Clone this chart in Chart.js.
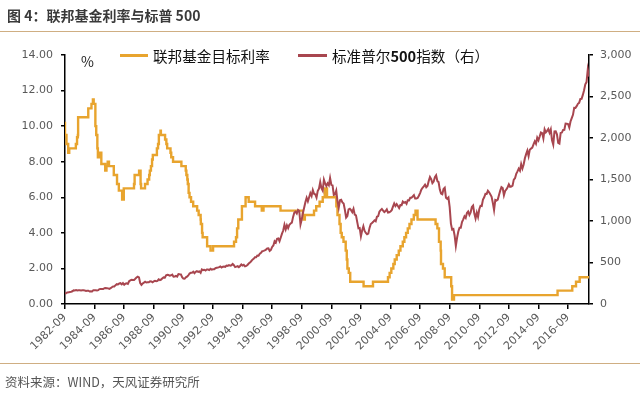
<!DOCTYPE html>
<html>
<head>
<meta charset="utf-8">
<script src="https://cdn.jsdelivr.net/npm/chart.js@4.4.1/dist/chart.umd.min.js"></script>
<style>
  body { margin: 0; background: #fff; }
  #wrap { position: relative; width: 640px; height: 394px; overflow: hidden; font-family: "Noto Sans CJK SC", sans-serif; }
  #canvas { position: absolute; left: 0; top: 0; }
  .txt { position: absolute; white-space: nowrap; }
  .rule { position: absolute; left: 0; width: 640px; height: 0; border-top: 1.5px solid #cfae82; }
  .swatch { position: absolute; height: 3px; }
</style>
</head>
<body>
<div id="wrap">
  <canvas id="canvas" width="640" height="394"></canvas>
  <div class="txt" style="left:7px; top:5px; font-size:14px; font-weight:bold; color:#3a3a3a;">图 4：联邦基金利率与标普 500</div>
  <div class="rule" style="top:31px;"></div>
  <div class="txt" style="left:81px; top:51px; font-size:14px; color:#222;">%</div>
  <div class="swatch" style="left:120px; top:54px; width:28px; background:#e8a42e;"></div>
  <div class="txt" style="left:153px; top:45px; font-size:14.6px; color:#111;">联邦基金目标利率</div>
  <div class="swatch" style="left:298px; top:54px; width:29px; background:#a8464f;"></div>
  <div class="txt" style="left:332px; top:45px; font-size:14.6px; color:#111;">标准普尔<b>500</b>指数（右）</div>
  <div class="rule" style="top:363px;"></div>
  <div class="txt" style="left:5px; top:372px; font-size:12.5px; color:#555;">资料来源：WIND，天风证券研究所</div>
</div>
<script>
// 联邦基金目标利率 (change dates and new target, %)
var fedDates = ['1982-09-01','1982-10-07','1982-11-19','1982-12-14','1983-05-25','1983-06-24','1983-07-14','1983-07-20',
  '1984-03-27','1984-06-15','1984-07-20','1984-08-09','1984-09-20','1984-10-11','1984-11-08','1984-11-21','1984-12-20',
  '1985-02-15','1985-05-20','1985-06-20','1985-07-20','1985-08-21','1985-12-18',
  '1986-03-07','1986-04-21','1986-07-11','1986-08-21',
  '1987-04-30','1987-05-15','1987-09-04','1987-10-10','1987-10-22','1988-01-28','1988-03-30','1988-05-09','1988-05-25',
  '1988-06-22','1988-07-19','1988-08-08','1988-11-17','1988-12-15','1989-01-05','1989-02-14','1989-02-24',
  '1989-06-06','1989-07-07','1989-07-27','1989-10-18','1989-11-06','1989-12-20',
  '1990-07-13','1990-10-29','1990-11-14','1990-12-07','1990-12-19','1991-01-09','1991-02-01','1991-03-08','1991-04-30',
  '1991-08-06','1991-09-13','1991-10-31','1991-11-06','1991-12-06','1991-12-20','1992-04-09','1992-07-02','1992-09-04',
  '1994-02-04','1994-03-22','1994-04-18','1994-05-17','1994-08-16','1994-11-15','1995-02-01','1995-07-06','1995-12-19',
  '1996-01-31','1997-03-25','1998-09-29','1998-10-15','1998-11-17','1999-06-30','1999-08-24','1999-11-16',
  '2000-02-02','2000-03-21','2000-05-16','2001-01-03','2001-01-31','2001-03-20','2001-04-18','2001-05-15','2001-06-27',
  '2001-08-21','2001-09-17','2001-10-02','2001-11-06','2001-12-11','2002-11-06','2003-06-25',
  '2004-06-30','2004-08-10','2004-09-21','2004-11-10','2004-12-14','2005-02-02','2005-03-22','2005-05-03','2005-06-30',
  '2005-08-09','2005-09-20','2005-11-01','2005-12-13','2006-01-31','2006-03-28','2006-05-10','2006-06-29',
  '2007-09-18','2007-10-31','2007-12-11','2008-01-22','2008-01-30','2008-03-18','2008-04-30','2008-10-08','2008-10-29',
  '2008-12-16','2015-12-16','2016-12-14','2017-03-15','2017-06-14','2017-12-13'];
var fedRates = [10.25, 9.5, 9.0, 8.5, 8.75, 9.0, 9.375, 9.5,
  10.5, 11.0, 11.25, 11.5, 11.25, 10.0, 9.5, 8.75, 8.25,
  8.5, 7.875, 7.5, 7.75, 8.0, 7.75,
  7.25, 6.75, 6.375, 5.875,
  6.5, 6.75, 7.25, 7.5, 6.75, 6.5, 6.75, 7.0, 7.25,
  7.5, 7.75, 8.125, 8.375, 8.75, 9.0, 9.5, 9.75,
  9.5, 9.25, 9.0, 8.75, 8.5, 8.25,
  8.0, 7.75, 7.5, 7.25, 7.0, 6.75, 6.25, 6.0, 5.75,
  5.5, 5.25, 5.0, 4.75, 4.5, 4.0, 3.75, 3.25, 3.0,
  3.25, 3.5, 3.75, 4.25, 4.75, 5.5, 6.0, 5.75, 5.5,
  5.25, 5.5, 5.25, 5.0, 4.75, 5.0, 5.25, 5.5,
  5.75, 6.0, 6.5, 6.0, 5.5, 5.0, 4.5, 4.0, 3.75,
  3.5, 3.0, 2.5, 2.0, 1.75, 1.25, 1.0,
  1.25, 1.5, 1.75, 2.0, 2.25, 2.5, 2.75, 3.0, 3.25,
  3.5, 3.75, 4.0, 4.25, 4.5, 4.75, 5.0, 5.25,
  4.75, 4.5, 4.25, 3.5, 3.0, 2.25, 2.0, 1.5, 1.0,
  0.25, 0.5, 0.75, 1.0, 1.25, 1.5];

// 标准普尔500指数, monthly, 1982-09 .. 2018-02
var spxStart = '1982-09';
var spx = [
  120.4, 133.7, 138.5, 140.6,
  145.3, 148.1, 153.0, 164.4, 162.4, 168.1, 162.6, 164.4, 166.1, 163.6, 166.4, 164.9,
  163.4, 157.1, 159.2, 160.1, 150.6, 153.2, 150.7, 166.7, 166.1, 166.1, 163.6, 167.2,
  179.6, 181.2, 180.7, 179.8, 189.6, 191.9, 190.9, 188.6, 182.1, 189.8, 202.2, 211.3,
  211.8, 226.9, 238.9, 235.5, 247.4, 250.8, 236.1, 252.9, 231.3, 244.0, 249.2, 242.2,
  274.1, 284.2, 291.7, 288.4, 290.1, 304.0, 318.7, 329.8, 321.8, 251.8, 230.3, 247.1,
  257.1, 267.8, 258.9, 261.3, 262.2, 273.5, 272.0, 261.5, 271.9, 279.0, 273.7, 277.7,
  297.5, 288.9, 294.9, 309.6, 320.5, 318.0, 346.1, 351.5, 349.2, 340.4, 346.0, 353.4,
  329.1, 331.9, 339.9, 330.8, 361.2, 358.0, 356.2, 322.6, 306.1, 304.0, 322.2, 330.2,
  343.9, 367.1, 375.2, 375.3, 389.8, 371.2, 387.8, 395.4, 387.9, 392.5, 375.2, 417.1,
  408.8, 412.7, 403.7, 415.0, 415.4, 408.1, 424.2, 414.0, 417.8, 418.7, 431.4, 435.7,
  438.8, 443.4, 451.7, 440.2, 450.2, 450.5, 448.1, 463.6, 458.9, 467.8, 461.8, 466.5,
  481.6, 467.1, 445.8, 450.9, 456.5, 444.3, 458.3, 475.5, 462.7, 472.4, 453.7, 459.3,
  470.4, 487.4, 500.7, 514.7, 533.4, 544.8, 562.1, 561.9, 584.4, 581.5, 605.4, 615.9,
  636.0, 640.4, 645.5, 654.2, 669.1, 670.6, 640.0, 652.0, 687.3, 705.3, 757.0, 740.7,
  786.2, 790.8, 757.1, 801.3, 848.3, 885.1, 954.3, 899.5, 947.3, 914.6, 955.4, 970.4,
  980.3, 1049.3, 1101.8, 1111.8, 1090.8, 1133.8, 1120.7, 957.3, 1017.0, 1098.7, 1163.6, 1229.2,
  1279.6, 1238.3, 1286.4, 1335.2, 1301.8, 1372.7, 1328.7, 1320.4, 1282.7, 1362.9, 1388.9, 1469.3,
  1394.5, 1366.4, 1498.6, 1452.4, 1420.6, 1454.6, 1430.8, 1517.7, 1436.5, 1429.4, 1315.0, 1320.3,
  1366.0, 1239.9, 1160.3, 1249.5, 1255.8, 1224.4, 1211.2, 1133.6, 1040.9, 1059.8, 1139.5, 1148.1,
  1130.2, 1106.7, 1147.4, 1076.9, 1067.1, 989.8, 911.6, 916.1, 815.3, 885.8, 936.3, 879.8,
  855.7, 841.2, 848.2, 916.9, 963.6, 974.5, 990.3, 1008.0, 996.0, 1050.7, 1058.2, 1111.9,
  1131.1, 1144.9, 1126.2, 1107.3, 1120.7, 1140.8, 1101.7, 1104.2, 1114.6, 1130.2, 1173.8, 1211.9,
  1181.3, 1203.6, 1180.6, 1156.9, 1191.5, 1191.3, 1234.2, 1220.3, 1228.8, 1207.0, 1249.5, 1248.3,
  1280.1, 1280.7, 1294.9, 1310.6, 1270.1, 1270.2, 1276.7, 1303.8, 1335.9, 1377.9, 1400.6, 1418.3,
  1438.2, 1406.8, 1420.9, 1482.4, 1530.6, 1503.4, 1455.3, 1474.0, 1526.8, 1549.4, 1481.1, 1468.4,
  1378.6, 1330.6, 1322.7, 1385.6, 1400.4, 1280.0, 1267.4, 1282.8, 1166.4, 968.8, 896.2, 903.3,
  825.9, 700.0, 797.9, 872.8, 919.1, 919.3, 987.5, 1020.6, 1057.1, 1036.2, 1095.6, 1115.1,
  1073.9, 1104.5, 1169.4, 1186.7, 1089.4, 1030.7, 1101.6, 1049.3, 1141.2, 1183.3, 1180.6, 1257.6,
  1286.1, 1327.2, 1325.8, 1363.6, 1345.2, 1320.6, 1292.3, 1218.9, 1131.4, 1253.3, 1247.0, 1257.6,
  1312.4, 1365.7, 1408.5, 1397.9, 1310.3, 1362.2, 1379.3, 1406.6, 1440.7, 1412.2, 1416.2, 1426.2,
  1498.1, 1514.7, 1569.2, 1597.6, 1630.7, 1606.3, 1685.7, 1633.0, 1681.6, 1756.5, 1805.8, 1848.4,
  1782.6, 1859.5, 1872.3, 1884.0, 1923.6, 1960.2, 1930.7, 2003.4, 1972.3, 2018.1, 2067.6, 2058.9,
  1995.0, 2104.5, 2067.9, 2085.5, 2107.4, 2063.1, 2103.8, 1972.2, 1920.0, 2079.4, 2080.4, 2043.9,
  1940.2, 1932.2, 2059.7, 2065.3, 2097.0, 2098.9, 2173.6, 2171.0, 2168.3, 2126.2, 2198.8, 2238.8,
  2278.9, 2363.6, 2362.7, 2384.2, 2411.8, 2423.4, 2470.3, 2471.7, 2519.4, 2575.3, 2647.6, 2673.6,
  2823.8, 2740.0
];

// x-axis tick labels (every two years, September)
var tickLabels = ['1982-09','1984-09','1986-09','1988-09','1990-09','1992-09','1994-09','1996-09','1998-09',
  '2000-09','2002-09','2004-09','2006-09','2008-09','2010-09','2012-09','2014-09','2016-09'];

// months elapsed since the first month of the chart
function monthsFrom(d) {
  var p = d.split('-');
  var s = spxStart.split('-');
  var m = (+p[0] - +s[0]) * 12 + (+p[1] - +s[1]);
  if (p[2]) m += (+p[2] - 1) / 30;
  return m;
}

var xMax = spx.length - 1;
var fedData = fedDates.map(function (d, i) { return { x: monthsFrom(d), y: fedRates[i] }; });
fedData.push({ x: xMax, y: fedRates[fedRates.length - 1] });
var spxData = spx.map(function (v, i) { return { x: i, y: v }; });

var tickFont = { family: 'DejaVu Sans', size: 11 };
var tickColor = '#595959';

window.onload = function () {
  var ctx = document.getElementById('canvas').getContext('2d');
  window.myChart = new Chart(ctx, {
    type: 'line',
    data: {
      datasets: [{
        label: '标准普尔500指数（右）',
        data: spxData,
        yAxisID: 'y1',
        borderColor: '#a8464f',
        borderWidth: 2,
        pointRadius: 0,
        order: 0
      }, {
        label: '联邦基金目标利率',
        data: fedData,
        yAxisID: 'y',
        borderColor: '#e8a42e',
        borderWidth: 2.4,
        pointRadius: 0,
        stepped: 'after',
        order: 1
      }]
    },
    options: {
      responsive: false,
      animation: false,
      devicePixelRatio: 1,
      layout: { padding: { top: 55, left: 0, right: 0, bottom: 0 } },
      plugins: { legend: { display: false }, tooltip: { enabled: false } },
      scales: {
        x: {
          type: 'linear',
          min: 0,
          max: xMax,
          afterFit: function (scale) { scale.height = 90; },
          afterBuildTicks: function (scale) {
            scale.ticks = tickLabels.map(function (t) { return { value: monthsFrom(t) }; });
          },
          grid: { drawOnChartArea: false, drawTicks: true, tickLength: 5, tickColor: '#000', lineWidth: 1.5 },
          border: { color: '#000', width: 1.5 },
          ticks: {
            autoSkip: false,
            minRotation: 45,
            maxRotation: 45,
            padding: 2,
            font: tickFont,
            color: tickColor,
            callback: function (v) {
              var i = tickLabels.map(monthsFrom).indexOf(v);
              return i >= 0 ? tickLabels[i] : null;
            }
          }
        },
        y: {
          position: 'left',
          min: 0,
          max: 14,
          afterFit: function (scale) { scale.width = 65; },
          grid: { drawOnChartArea: false, drawTicks: true, tickLength: 4, tickColor: '#000', lineWidth: 1.5 },
          border: { color: '#000', width: 1.5 },
          ticks: {
            stepSize: 2,
            padding: 8,
            font: tickFont,
            color: tickColor,
            callback: function (v) { return v.toFixed(2); }
          }
        },
        y1: {
          position: 'right',
          min: 0,
          max: 3000,
          afterFit: function (scale) { scale.width = 51; },
          grid: { drawOnChartArea: false, drawTicks: true, tickLength: 4, tickColor: '#000', lineWidth: 1.5 },
          border: { color: '#000', width: 1.5 },
          ticks: {
            stepSize: 500,
            padding: 7,
            font: tickFont,
            color: tickColor,
            callback: function (v) { return v.toLocaleString('en-US'); }
          }
        }
      }
    }
  });
};
</script>
</body>
</html>
